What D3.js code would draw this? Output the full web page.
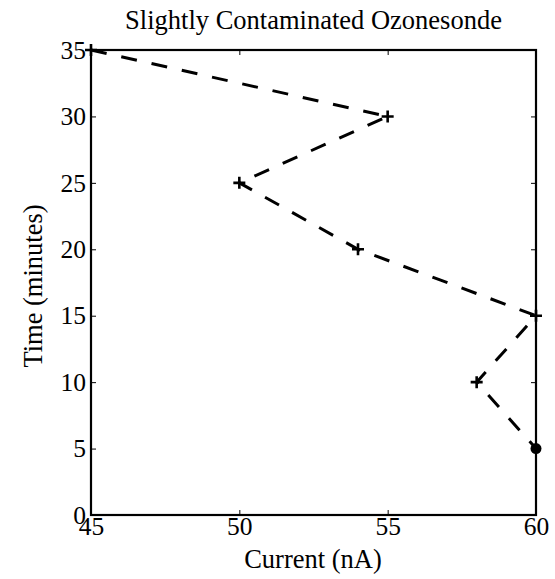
<!DOCTYPE html>
<html><head><meta charset="utf-8">
<script src="https://cdn.jsdelivr.net/npm/d3@7"></script>
<style>body{margin:0;background:#fff}svg{display:block}</style>
</head><body>
<script>
const current = [45, 55, 50, 54, 60, 58, 60];
const time = [35, 30, 25, 20, 15, 10, 5];
const markers = ["plus","plus","plus","plus","plus","plus","dot"];
const xTicks = [45, 50, 55, 60];
const yTicks = [0, 5, 10, 15, 20, 25, 30, 35];

const W = 555, H = 579;
const m = {l: 91, r: 536, t: 50, b: 515};
const svg = d3.select("body").append("svg").attr("width", W).attr("height", H);
const x = d3.scaleLinear().domain([45, 60]).range([m.l, m.r]);
const y = d3.scaleLinear().domain([0, 35]).range([m.b, m.t]);
const font = "'Liberation Serif', 'Times New Roman', serif";
const fs = 26.5, tfs = 25.5;

// axes
const gx = svg.append("g").attr("transform", `translate(0,${m.b})`)
  .call(d3.axisBottom(x).tickValues(xTicks).tickSizeInner(-5).tickSizeOuter(0).tickPadding(20));
const gxt = svg.append("g").attr("transform", `translate(0,${m.t})`)
  .call(d3.axisTop(x).tickValues(xTicks).tickSizeInner(-5).tickSizeOuter(0).tickFormat(""));
const gy = svg.append("g").attr("transform", `translate(${m.l},0)`)
  .call(d3.axisLeft(y).tickValues(yTicks).tickSizeInner(-5).tickSizeOuter(0).tickPadding(5));
const gyr = svg.append("g").attr("transform", `translate(${m.r},0)`)
  .call(d3.axisRight(y).tickValues(yTicks).tickSizeInner(-5).tickSizeOuter(0).tickFormat(""));
[gx, gxt, gy, gyr].forEach(g => {
  g.attr("font-size", tfs).attr("font-family", font);
  g.selectAll(".domain").remove();
  g.selectAll("line").attr("stroke", "#000").attr("stroke-width", 1);
  g.selectAll("text").attr("font-family", font).attr("font-size", tfs).attr("fill", "#000");
});
gx.selectAll("text").attr("dy", "0");
svg.append("rect").attr("x", m.l).attr("y", m.t).attr("width", m.r - m.l).attr("height", m.b - m.t)
  .attr("fill", "none").attr("stroke", "#000").attr("stroke-width", 2.2);

// line
const pts = current.map((c, i) => ({c, t: time[i], mk: markers[i]}));
svg.append("path").datum(pts)
  .attr("d", d3.line().x(d => x(d.c)).y(d => y(d.t)))
  .attr("fill", "none").attr("stroke", "#000").attr("stroke-width", 3)
  .attr("stroke-dasharray", "16,15");

// markers
pts.forEach(d => {
  const px = x(d.c), py = y(d.t);
  if (d.mk === "plus") {
    svg.append("path").attr("d", `M${px-6},${py}H${px+6}M${px},${py-6}V${py+6}`)
      .attr("stroke", "#000").attr("stroke-width", 2.6);
  } else {
    svg.append("circle").attr("cx", px).attr("cy", py).attr("r", 5.5).attr("fill", "#000");
  }
});

// labels
svg.append("text").attr("x", 313.5).attr("y", 29).attr("text-anchor", "middle")
  .attr("font-family", font).attr("font-size", fs).attr("fill", "#000").text("Slightly Contaminated Ozonesonde");
svg.append("text").attr("x", 313).attr("y", 568).attr("text-anchor", "middle")
  .attr("font-family", font).attr("font-size", fs).attr("fill", "#000").text("Current (nA)");
svg.append("text").attr("transform", "translate(42,286) rotate(-90)").attr("text-anchor", "middle")
  .attr("font-family", font).attr("font-size", fs).attr("fill", "#000").text("Time (minutes)");
</script>
</body></html>
